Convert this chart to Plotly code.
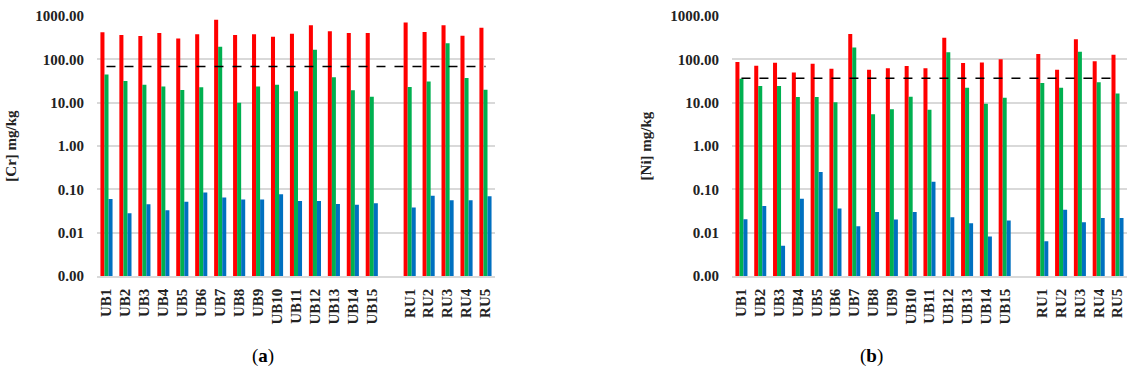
import plotly.graph_objects as go

categories = ["UB1", "UB2", "UB3", "UB4", "UB5", "UB6", "UB7", "UB8", "UB9", "UB10",
              "UB11", "UB12", "UB13", "UB14", "UB15", "RU1", "RU2", "RU3", "RU4", "RU5"]
axis_order = categories[:15] + [" "] + categories[15:]

cr_red = [420, 365, 347, 405, 305, 378, 823, 365, 378, 333, 391, 609, 443, 405, 405, 714, 428, 609, 352, 538]
cr_green = [45, 31.6, 26, 23.8, 19.6, 22.6, 196, 10, 23.8, 26, 18.3, 167, 38.4, 19.3, 13.7, 23, 31, 234, 37, 20]
cr_blue = [0.060, 0.028, 0.045, 0.033, 0.052, 0.085, 0.065, 0.058, 0.058, 0.077, 0.054, 0.054, 0.046, 0.044,
           0.048, 0.038, 0.071, 0.056, 0.056, 0.069]
cr_limit = 68

ni_red = [86.8, 71.4, 83.8, 50, 79.4, 61, 384, 57.8, 62, 70, 62, 316, 82, 85, 100, 133, 57.8, 290, 90, 128]
ni_green = [35.8, 24.2, 24.2, 13.5, 13.5, 10.2, 189, 5.4, 7.1, 13.8, 6.9, 145, 22.2, 9.5, 13, 28.5, 22.2, 150, 29.5, 16.4]
ni_blue = [0.0203, 0.041, 0.005, 0.061, 0.25, 0.036, 0.014, 0.030, 0.020, 0.030, 0.15, 0.0226, 0.0164, 0.0082,
           0.019, 0.0063, 0.034, 0.0173, 0.0218, 0.0218]
ni_limit = 36.5

ytick_vals = [0.001, 0.01, 0.1, 1, 10, 100, 1000]
ytick_text = ["0.00", "0.01", "0.10", "1.00", "10.00", "100.00", "1000.00"]

RED = "#FF0000"
GREEN = "#00B050"
BLUE = "#0070C0"
SERIF = "Liberation Serif"
TXT = "#222222"

fig = go.Figure()

panels = [
    ("x", "y", cr_red, cr_green, cr_blue, cr_limit),
    ("x2", "y2", ni_red, ni_green, ni_blue, ni_limit),
]
for xa, ya, r, g, b, lim in panels:
    for vals, col in ((r, RED), (g, GREEN), (b, BLUE)):
        fig.add_trace(go.Bar(x=categories, y=vals, marker=dict(color=col, line=dict(width=0)),
                             xaxis=xa, yaxis=ya, showlegend=False))
    fig.add_trace(go.Scatter(x=[categories[0], categories[-1]], y=[lim, lim], mode="lines",
                             line=dict(color="black", width=1.5, dash="dash"),
                             xaxis=xa, yaxis=ya, showlegend=False))

tickfont = dict(family=SERIF, size=15, color=TXT)
xticktext = [f"<b>{c}</b>" if c.strip() else c for c in axis_order]
common_x = dict(type="category", categoryorder="array", categoryarray=axis_order,
                tickvals=axis_order, ticktext=xticktext,
                range=[-0.5, len(axis_order) - 0.5], tickangle=-90, tickfont=tickfont,
                showgrid=False, showline=True, linecolor="#D9D9D9", linewidth=1.5, ticks="",
                zeroline=False, automargin=False, ticklabelstandoff=5)
common_y = dict(type="log", range=[-3, 3], tickvals=ytick_vals,
                ticktext=[f"<b>{t}</b>" for t in ytick_text],
                tickfont=tickfont, showgrid=True, gridcolor="#D9D9D9", gridwidth=1.5,
                showline=False, zeroline=False, ticks="", ticklabelstandoff=12, automargin=False)

fig.update_layout(
    width=1136, height=382,
    margin=dict(l=0, r=0, t=0, b=0),
    plot_bgcolor="white", paper_bgcolor="white",
    barmode="group", bargap=0.36, bargroupgap=0,
    font=dict(family=SERIF),
    xaxis=dict(domain=[0.0854, 0.4357], anchor="y", **common_x),
    yaxis=dict(domain=[0.2775, 0.958], anchor="x",
               title=dict(text="<b>[Cr] mg/kg</b>", font=dict(family=SERIF, size=15, color=TXT)),
               **common_y),
    xaxis2=dict(domain=[0.6444, 0.992], anchor="y2", **common_x),
    yaxis2=dict(domain=[0.2775, 0.958], anchor="x2",
                title=dict(text="<b>[Ni] mg/kg</b>", font=dict(family=SERIF, size=15, color=TXT)),
                **common_y),
    annotations=[
        dict(text="(<b>a</b>)", x=0.22, y=0.035, xref="paper", yref="paper", showarrow=False,
             font=dict(family=SERIF, size=19, color="black")),
        dict(text="(<b>b</b>)", x=0.779, y=0.035, xref="paper", yref="paper", showarrow=False,
             font=dict(family=SERIF, size=19, color="black")),
    ],
)

fig.write_html("out.html", config={"displayModeBar": False},
               post_script="document.body.style.margin='0';")
